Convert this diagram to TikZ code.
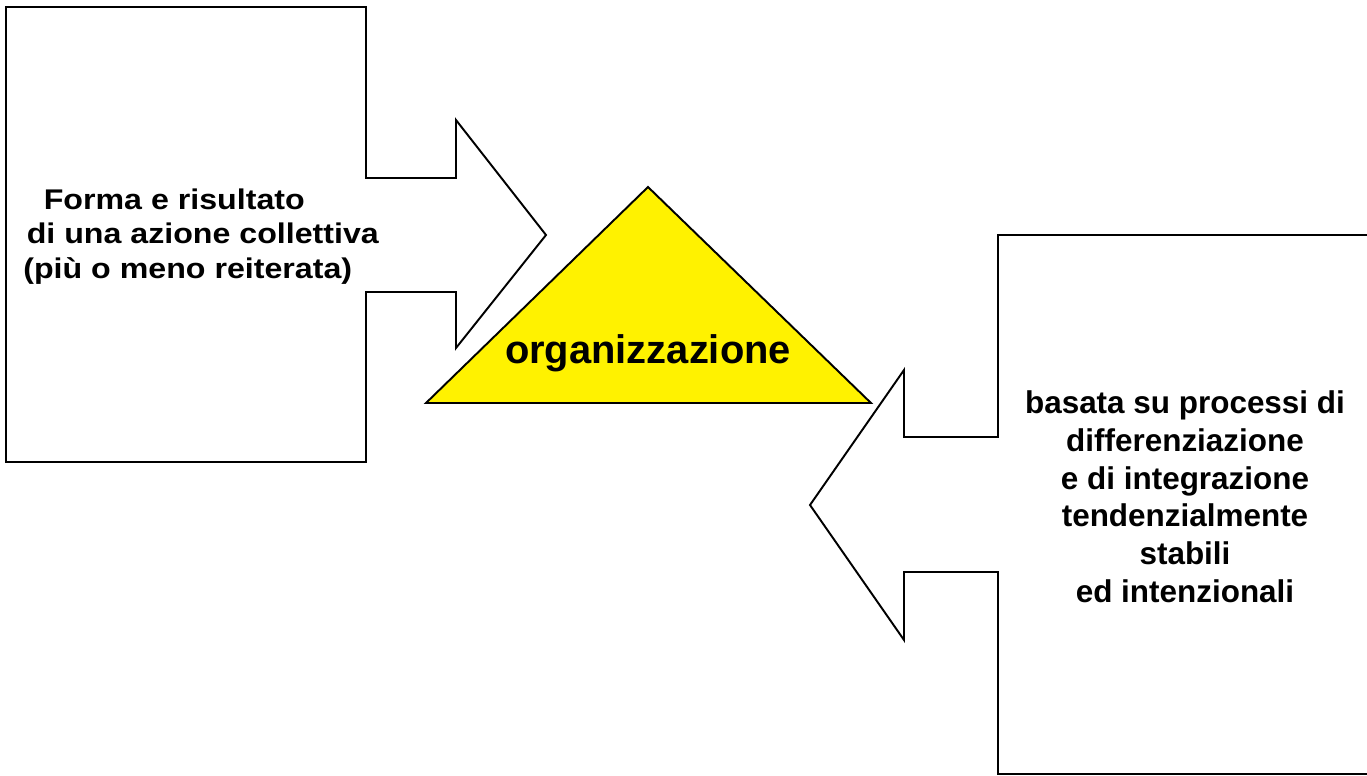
\documentclass[tikz,border=0pt]{standalone}
\usepackage{fontspec}
\setmainfont{Liberation Sans}
\newfontfamily\widefont[FakeStretch=1.13]{Liberation Sans}
\usetikzlibrary{calc}

\tikzset{
  outline/.style={draw, line width=1.1pt, line join=miter},
  leftlabel/.style={font=\widefont\bfseries\fontsize{16.2}{19.6}\selectfont, align=left, inner sep=0pt},
  rightlabel/.style={font=\bfseries\fontsize{17.9}{21.6}\selectfont, align=center, inner sep=0pt},
  toplabel/.style={font=\bfseries\fontsize{22.7}{27}\selectfont, inner sep=0pt}
}

\begin{document}
\begin{tikzpicture}[x=0.02cm, y=-0.02cm]
\clip (0, 0) rectangle (1367, 775);
% left callout, arrow to the right
\draw [outline] (6, 7) -- (366, 7) -- (366, 178) -- (456, 178) -- (456, 120) -- (546, 235)
  -- (456, 348) -- (456, 292) -- (366, 292) -- (366, 462) -- (6, 462) -- cycle;
% right callout, arrow to the left
\draw [outline] (998, 235) -- (1375, 235) -- (1375, 774) -- (998, 774) -- (998, 572) -- (904, 572)
  -- (904, 640) -- (810, 505) -- (904, 370) -- (904, 437) -- (998, 437) -- cycle;
% triangle
\coordinate (apex) at (648, 187);
\coordinate (bl) at (426, 403);
\coordinate (br) at (871, 403);
\draw [outline, fill=yellow] (apex) -- (bl) -- (br) -- cycle;
\node (org) at (648, 363) [toplabel, anchor=base] {organizzazione};
\node (forma) at (23, 188.5) [leftlabel, anchor=north west] {\hspace*{0.72em}Forma e risultato\\\hspace*{0.12em}di una azione collettiva\\(più o meno reiterata)};
\node (basata) at (1185, 390) [rightlabel, anchor=north] {basata su processi di\\differenziazione\\e di integrazione\\tendenzialmente\\stabili\\ed intenzionali};
\end{tikzpicture}
\end{document}
